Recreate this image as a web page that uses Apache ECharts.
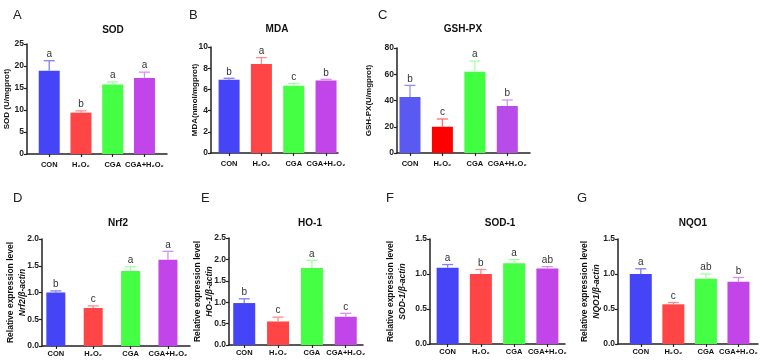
<!DOCTYPE html>
<html>
<head>
<meta charset="utf-8">
<script src="https://cdn.jsdelivr.net/npm/echarts@6/dist/echarts.min.js"></script>
<style>
html,body{margin:0;padding:0;background:#fff}
#main{width:764px;height:360px}
</style>
</head>
<body>
<div id="main"></div>
<script>
const categories = ['CON', 'H₂O₂', 'CGA', 'CGA+H₂O₂']

// A - C : biochemical assays
const sodMean = [18.9, 9.4, 15.8, 17.3]
const sodErr = [2.3, 0.4, 0.6, 1.3]
const sodSig = ['a', 'b', 'a', 'a']

const mdaMean = [6.9, 8.4, 6.35, 6.85]
const mdaErr = [0.15, 0.6, 0.2, 0.1]
const mdaSig = ['b', 'a', 'c', 'b']

const gshMean = [42.6, 20.0, 61.9, 35.8]
const gshErr = [8.9, 5.9, 8.1, 4.6]
const gshSig = ['b', 'c', 'a', 'b']

// D - G : relative expression
const nrf2Mean = [1.0, 0.71, 1.40, 1.61]
const nrf2Err = [0.03, 0.04, 0.08, 0.16]
const nrf2Sig = ['b', 'c', 'a', 'a']

const ho1Mean = [0.98, 0.55, 1.80, 0.66]
const ho1Err = [0.10, 0.10, 0.18, 0.08]
const ho1Sig = ['b', 'c', 'a', 'c']

const sod1Mean = [1.09, 1.0, 1.155, 1.08]
const sod1Err = [0.045, 0.065, 0.05, 0.025]
const sod1Sig = ['a', 'b', 'a', 'ab']

const nqo1Mean = [1.0, 0.567, 0.933, 0.89]
const nqo1Err = [0.075, 0.025, 0.067, 0.06]
const nqo1Sig = ['a', 'c', 'ab', 'b']

const barColors = ['#4545F7', '#FF4545', '#45FF45', '#C145E8']
const errColors = ['#8080FA', '#FF8C8C', '#A0FFA0', '#D690F2']
// panel C uses slightly different fills
const barColorsC = ['#5A5AF2', '#FF0000', '#40FF40', '#B84CE8']
const errColorsC = ['#9090F5', '#FF7070', '#A8FFA8', '#D498F0']

const font = 'Liberation Sans, Arial, sans-serif'

const panels = [
    {tag:'A', title:'SOD', mean:sodMean, err:sodErr, sig:sodSig, yMax:25, yStep:5, yName:'SOD (U/mgprot)'},
    {tag:'B', title:'MDA', mean:mdaMean, err:mdaErr, sig:mdaSig, yMax:10, yStep:2, yName:'MDA(nmol/mgprot)'},
    {tag:'C', title:'GSH-PX', mean:gshMean, err:gshErr, sig:gshSig, yMax:80, yStep:20, yName:'GSH-PX(U/mgprot)', colors:barColorsC, errs:errColorsC},
    {tag:'D', title:'Nrf2', mean:nrf2Mean, err:nrf2Err, sig:nrf2Sig, yMax:2.0, yStep:0.5, gene:'Nrf2'},
    {tag:'E', title:'HO-1', mean:ho1Mean, err:ho1Err, sig:ho1Sig, yMax:2.5, yStep:0.5, gene:'HO-1'},
    {tag:'F', title:'SOD-1', mean:sod1Mean, err:sod1Err, sig:sod1Sig, yMax:1.5, yStep:0.5, gene:'SOD-1'},
    {tag:'G', title:'NQO1', mean:nqo1Mean, err:nqo1Err, sig:nqo1Sig, yMax:1.5, yStep:0.5, gene:'NQO1'}
]

// layout: axis box in px, x range in category units, title / tag positions
const layout = [
    {l:26, r:167, t:44, b:154, xMin:-0.70, xMax:3.71, bw:21, gap:14, lm:7, tx:108, ty:20, px:8, py:4},
    {l:211, r:338, t:47, b:153, xMin:-0.56, xMax:3.37, bw:21, gap:10, lm:7, tx:272, ty:19, px:184, py:4},
    {l:397, r:530, t:48, b:153, xMin:-0.40, xMax:3.70, bw:21, gap:22, lm:7, tx:458, ty:19, px:373, py:4},
    {l:42, r:190, t:239, b:346, xMin:-0.37, xMax:3.59, bw:19, gap:13, lm:4, tx:113, ty:213, px:8, py:187},
    {l:229, r:363, t:238, b:345, xMin:-0.45, xMax:3.51, bw:22, gap:13, lm:4, tx:305, ty:213, px:196, py:187},
    {l:430, r:565, t:239, b:344, xMin:-0.53, xMax:3.53, bw:22, gap:21, lm:4, tx:495, ty:213, px:381, py:187},
    {l:618, r:758, t:239, b:344, xMin:-0.70, xMax:3.60, bw:22, gap:15, lm:4, tx:688, ty:213, px:572, py:187}
]

const chart = echarts.init(document.getElementById('main'))

const grid = [], xAxis = [], yAxis = [], series = [], title = []
panels.forEach((p, i) => {
    const g = layout[i]
    const colors = p.colors || barColors
    const errs = p.errs || errColors
    grid.push({left:g.l, top:g.t, width:g.r - g.l, height:g.b - g.t, containLabel:false})
    title.push({text:p.tag, left:g.px, top:g.py, textStyle:{fontFamily:font, fontSize:13, fontWeight:'normal', color:'#222'}})
    title.push({text:p.title, left:g.tx, top:g.ty, textAlign:'center', textStyle:{fontFamily:font, fontSize:10, fontWeight:'bold', color:'#111'}})
    xAxis.push({
        type:'value', gridIndex:i, min:g.xMin, max:g.xMax,
        axisLine:{show:true, onZero:false, lineStyle:{color:'#222', width:1.5}},
        axisTick:{show:true, customValues:[0, 1, 2, 3], length:3, lineStyle:{color:'#222', width:1.2}},
        axisLabel:{customValues:[0, 1, 2, 3], formatter:v => categories[Math.round(v)], margin:g.lm,
            fontFamily:font, fontSize:7.5, fontWeight:'bold', color:'#111'},
        splitLine:{show:false}
    })
    const name = p.gene
        ? '{n|Relative expression level}\n{i|' + p.gene + '/β-actin}'
        : p.yName
    yAxis.push({
        type:'value', gridIndex:i, min:0, max:p.yMax, interval:p.yStep,
        axisLine:{show:true, onZero:false, lineStyle:{color:'#222', width:1.5}},
        axisTick:{show:true, length:3, lineStyle:{color:'#222', width:1.2}},
        axisLabel:{margin:3, fontFamily:font, fontSize:8.5, fontWeight:'bold', color:'#222',
            formatter:v => p.yStep < 1 ? v.toFixed(1) : String(v)},
        splitLine:{show:false},
        name:name, nameLocation:'middle', nameRotate:90, nameGap:g.gap, nameMoveOverlap:false,
        nameTextStyle:{fontFamily:font, fontSize:8, fontWeight:'bold', color:'#111', lineHeight:12,
            rich:{n:{fontFamily:font, fontSize:8.5, fontWeight:'bold', color:'#111', lineHeight:12},
                  i:{fontFamily:font, fontSize:8.5, fontWeight:'bold', fontStyle:'italic', color:'#111', lineHeight:12}}}
    })
    series.push({
        type:'bar', xAxisIndex:i, yAxisIndex:i, barWidth:g.bw, silent:true,
        data:p.mean.map((v, k) => ({value:[k, v], itemStyle:{color:colors[k]}}))
    })
    series.push({
        type:'custom', xAxisIndex:i, yAxisIndex:i, clip:false, silent:true, z:3,
        encode:{x:0, y:1},
        data:p.mean.map((v, k) => [k, v, p.err[k]]),
        renderItem(params, api){
            const k = api.value(0)
            const base = api.coord([k, api.value(1)])
            const top = api.coord([k, api.value(1) + api.value(2)])
            const hw = 5.5
            const c = errs[k]
            return {type:'group', children:[
                {type:'line', shape:{x1:base[0], y1:base[1], x2:top[0], y2:top[1]}, style:{stroke:c, lineWidth:1.3}},
                {type:'line', shape:{x1:top[0] - hw, y1:top[1], x2:top[0] + hw, y2:top[1]}, style:{stroke:c, lineWidth:1.3}},
                {type:'text', x:top[0], y:top[1] - 1.5, style:{text:p.sig[k], align:'center', verticalAlign:'bottom',
                    fontFamily:font, fontSize:10, fill:'#333'}}
            ]}
        }
    })
})

chart.setOption({animation:false, backgroundColor:'#fff', title, grid, xAxis, yAxis, series})
</script>
</body>
</html>
